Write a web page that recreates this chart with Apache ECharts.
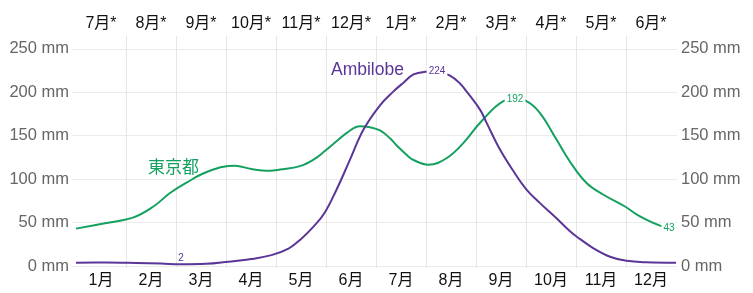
<!DOCTYPE html>
<html>
<head>
<meta charset="utf-8">
<script src="https://cdn.jsdelivr.net/npm/echarts@6/dist/echarts.min.js"></script>
<style>
html,body{margin:0;padding:0;background:#fff;}
#chart{width:753px;height:293px;}
</style>
</head>
<body>
<div id="chart"></div>
<script>
// ---- data ----
var months = ['1月','2月','3月','4月','5月','6月','7月','8月','9月','10月','11月','12月'];
var monthsShifted = ['7月*','8月*','9月*','10月*','11月*','12月*','1月*','2月*','3月*','4月*','5月*','6月*'];
var yTicks = [0, 50, 100, 150, 200, 250];

// x position in months (0 = start of Jan, 12 = end of Dec), precipitation in mm
var tokyoX = [0, 0.55, 1.15, 1.55, 1.88, 2.21, 2.65, 3.18, 3.51, 3.88, 4.08, 4.48, 4.75, 4.97, 5.21, 5.41, 5.68, 5.88, 6.08, 6.28, 6.41, 6.61, 6.75, 7.05, 7.41, 7.75, 8.1, 8.55, 8.78, 9.0, 9.28, 9.61, 9.88, 10.21, 10.55, 10.98, 11.28, 11.68, 12];
var tokyoY = [43, 49, 56, 68.5, 84, 96, 109, 115.5, 111.6, 109.7, 111, 115, 122.4, 132, 143.5, 153, 160.8, 159.7, 156, 147, 139, 128, 122, 116.6, 124, 141.7, 166, 189.7, 192, 190, 176, 145.5, 120, 95.5, 82, 68.5, 57, 46.5, 43];

var ambX = [0, 0.6, 1.2, 1.7, 2.1, 2.6, 3.05, 3.51, 3.91, 4.25, 4.48, 4.75, 4.97, 5.21, 5.48, 5.75, 6.08, 6.35, 6.55, 6.75, 6.98, 7.22, 7.48, 7.68, 7.81, 8.08, 8.21, 8.48, 8.75, 9.01, 9.28, 9.61, 9.88, 10.01, 10.35, 10.68, 11.01, 11.41, 12];
var ambY = [3.8, 4, 3.5, 2.8, 2, 2.5, 5, 8, 12.5, 20, 30, 45.4, 61, 87.8, 122.4, 157, 185, 201, 211, 220.5, 223.5, 224, 219, 210, 201, 180, 165, 134, 109, 88, 72.4, 55, 40, 34, 20.4, 10.7, 6, 4.3, 3.8];

var tokyoName = '東京都';
var ambName = 'Ambilobe';

// ---- styles ----
var GREEN = '#14a15f';
var PURPLE = '#5b3597';
var FONT = "'Liberation Sans', 'Noto Sans CJK JP', sans-serif";

function pairs(xs, ys){ return xs.map(function(x,i){ return [x, ys[i]]; }); }
function idxMax(a){ var k=0; a.forEach(function(v,i){ if(v>a[k]) k=i; }); return k; }
function idxMin(a){ var k=0; a.forEach(function(v,i){ if(v<a[k]) k=i; }); return k; }

var tMax = idxMax(tokyoY), tLast = tokyoY.length-1;
var aMax = idxMax(ambY), aMin = idxMin(ambY);

function lbl(color, extra){
  var o = {show:true, position:'inside', color:color, fontSize:10, fontFamily:FONT,
           backgroundColor:'#fff', padding:[1,2], formatter:function(p){return String(Math.round(p.value));}};
  for (var k in extra) o[k]=extra[k];
  return o;
}

var chart = echarts.init(document.getElementById('chart'), null, {renderer:'canvas'});
chart.setOption({
  animation:false,
  backgroundColor:'#fff',
  grid:[
    {left:72, right:76, top:48.8, bottom:27},
    {left:76, right:77, top:36, bottom:25}
  ],
  xAxis:[
    {type:'value', gridIndex:0, min:-0.08, max:12.02, show:false},
    {type:'category', gridIndex:1, position:'bottom', data:months, boundaryGap:true,
      axisLine:{show:false}, axisTick:{show:false},
      axisLabel:{interval:0, color:'#111', fontSize:16, fontFamily:FONT, margin:5},
      splitLine:{show:true, interval:0, showMinLine:false, showMaxLine:false, lineStyle:{color:'#e6e6e6', width:1}}},
    {type:'category', gridIndex:1, position:'top', data:monthsShifted, boundaryGap:true,
      axisLine:{show:false}, axisTick:{show:false},
      axisLabel:{interval:0, color:'#111', fontSize:16, fontFamily:FONT, margin:4},
      splitLine:{show:false}}
  ],
  yAxis:[
    {type:'value', gridIndex:0, position:'left', min:yTicks[0], max:yTicks[yTicks.length-1], interval:yTicks[1]-yTicks[0],
      axisLine:{show:false}, axisTick:{show:false},
      axisLabel:{color:'#666', fontSize:16.5, fontFamily:FONT, margin:3, formatter:'{value} mm'},
      splitLine:{show:true, lineStyle:{color:'#ebebeb', width:1}}},
    {type:'value', gridIndex:0, position:'right', min:yTicks[0], max:yTicks[yTicks.length-1], interval:yTicks[1]-yTicks[0],
      axisLine:{show:false}, axisTick:{show:false},
      axisLabel:{color:'#666', fontSize:16.5, fontFamily:FONT, margin:4, formatter:'{value} mm'},
      splitLine:{show:false}},
    {type:'value', gridIndex:1, show:false}
  ],
  series:[
    {name:tokyoName, type:'line', xAxisIndex:0, yAxisIndex:0, data:pairs(tokyoX, tokyoY),
      smooth:0.4, symbol:'none', lineStyle:{color:GREEN, width:2}, itemStyle:{color:GREEN}, z:3,
      markPoint:{symbol:'circle', symbolSize:0, silent:true, z:10,
        data:[
          {coord:[tokyoX[tMax], tokyoY[tMax]], value:tokyoY[tMax], label:lbl(GREEN,{})},
          {coord:[tokyoX[tLast], tokyoY[tLast]], value:tokyoY[tLast], label:lbl(GREEN,{offset:[-7,0]})}
        ]}},
    {name:ambName, type:'line', xAxisIndex:0, yAxisIndex:0, data:pairs(ambX, ambY),
      smooth:0.4, symbol:'none', lineStyle:{color:PURPLE, width:2}, itemStyle:{color:PURPLE}, z:4,
      markPoint:{symbol:'circle', symbolSize:0, silent:true, z:10,
        data:[
          {coord:[ambX[aMax], ambY[aMax]], value:ambY[aMax], label:lbl(PURPLE,{})},
          {coord:[ambX[aMin], ambY[aMin]], value:ambY[aMin], label:lbl(PURPLE,{backgroundColor:'transparent', offset:[0,-6]})}
        ]}}
  ],
  graphic:[
    {type:'text', z:100, left:148, top:160, style:{text:tokyoName, fill:GREEN, font:'17px ' + FONT}},
    {type:'text', z:100, left:331, top:61, style:{text:ambName, fill:PURPLE, font:'17.5px ' + FONT}}
  ]
});
</script>
</body>
</html>
